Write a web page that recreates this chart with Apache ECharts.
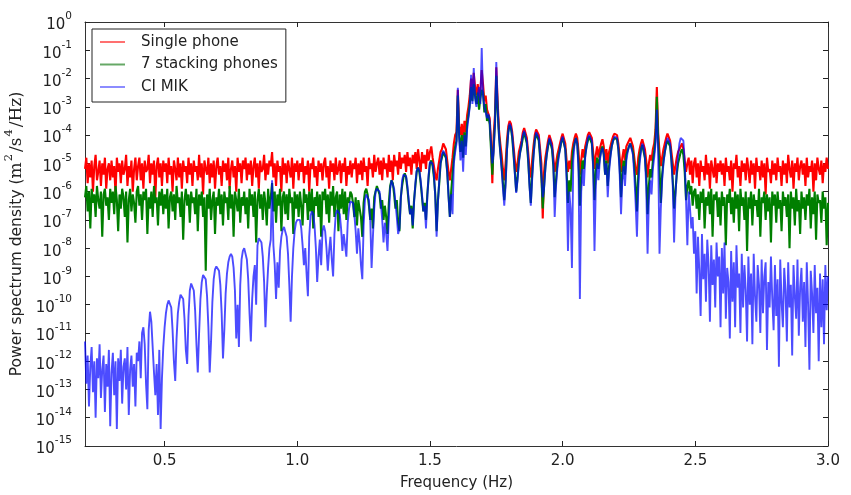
<!DOCTYPE html>
<html>
<head>
<meta charset="utf-8">
<script src="https://cdn.jsdelivr.net/npm/echarts@6/dist/echarts.min.js"></script>
<style>html,body{margin:0;padding:0;background:#fff}#chart{width:851px;height:495px}</style>
</head>
<body>
<div id="chart"></div>
<script>
// Frequency sampling grid (Hz)
const freqStart = 0.2;
const freqStep = 0.005;

// log10 of power spectral density, one row per 0.1 Hz
const singlePhoneLog10 = [
-5.2,-4.8,-5.7,-5.0,-5.5,-4.9,-6.0,-5.1,-4.7,-5.6,-5.3,-4.9,-5.8,-5.0,-5.4,-4.8,-5.9,-5.2,-5.0,-5.6,
-4.9,-5.5,-5.1,-6.1,-4.8,-5.3,-5.0,-5.7,-4.9,-5.4,-5.2,-4.7,-5.8,-5.1,-5.5,-4.9,-6.0,-5.2,-4.8,-5.6,
-5.1,-4.8,-5.6,-5.0,-5.9,-4.9,-5.3,-5.2,-4.7,-5.7,-5.0,-5.4,-4.9,-6.2,-5.1,-4.8,-5.5,-5.0,-5.8,-4.9,
-5.3,-5.0,-5.7,-4.8,-5.4,-5.1,-6.0,-4.9,-5.2,-5.6,-4.8,-5.5,-5.0,-5.9,-4.9,-5.3,-5.1,-5.7,-4.8,-5.4,
-5.0,-5.8,-4.9,-5.3,-5.1,-5.6,-4.7,-5.5,-5.0,-6.1,-4.9,-5.2,-5.4,-4.8,-5.7,-5.0,-5.5,-4.9,-5.9,-5.1,
-4.8,-5.4,-5.1,-5.8,-4.9,-5.3,-5.0,-5.6,-4.8,-5.9,-5.2,-4.9,-5.5,-5.1,-6.0,-4.8,-5.3,-5.0,-5.7,-4.9,
-5.2,-4.8,-5.6,-5.0,-5.4,-4.9,-5.8,-5.1,-4.8,-5.5,-5.0,-5.9,-4.9,-5.3,-5.2,-4.7,-5.6,-5.0,-5.4,-4.9,
-5.1,-4.6,-5.5,-5.0,-5.8,-4.9,-5.3,-5.1,-6.0,-4.8,-5.4,-5.0,-5.7,-4.9,-5.2,-5.5,-4.8,-5.9,-5.0,-5.3,
-4.9,-5.6,-5.0,-5.3,-4.8,-5.7,-5.1,-5.4,-4.9,-6.0,-5.0,-5.2,-4.8,-5.5,-5.1,-5.8,-4.9,-5.3,-5.0,-5.6,
-5.0,-4.8,-5.5,-5.1,-5.9,-4.9,-5.3,-5.0,-5.6,-4.8,-5.4,-5.2,-4.9,-5.7,-5.0,-5.3,-4.8,-5.8,-5.1,-5.4,
-4.9,-5.5,-5.0,-5.2,-4.8,-5.7,-5.0,-5.4,-4.9,-5.6,-4.8,-5.3,-5.1,-5.8,-4.8,-5.2,-5.0,-5.5,-4.7,-5.3,
-5.0,-4.8,-5.4,-4.9,-5.6,-4.8,-5.2,-5.0,-5.5,-4.7,-5.3,-4.9,-5.6,-4.7,-5.1,-4.9,-5.4,-4.6,-5.2,-4.8,
-5.0,-4.7,-5.3,-4.6,-5.1,-4.8,-5.4,-4.7,-5.0,-4.6,-5.2,-4.5,-4.9,-5.3,-4.6,-5.0,-4.7,-5.2,-4.5,-4.9,
-4.6,-4.4,-4.8,-5.1,-5.4,-5.6,-5.2,-4.9,-4.6,-4.5,-4.3,-4.35,-4.5,-4.9,-5.3,-5.6,-5.2,-4.8,-4.3,-4.0,
-3.9,-2.4,-3.7,-4.0,-3.6,-4.2,-3.5,-3.9,-3.3,-3.0,-2.6,-2.0,-2.5,-1.8,-2.3,-2.6,-2.2,-2.7,-2.4,-1.7,
-2.2,-2.8,-2.6,-3.1,-3.1,-3.4,-4.2,-5.7,-4.0,-3.3,-1.6,-2.8,-3.8,-4.3,-4.7,-5.2,-5.6,-5.0,-4.2,-3.7,
-3.5,-3.6,-3.9,-4.4,-4.9,-5.3,-5.0,-4.6,-4.4,-4.2,-3.9,-3.75,-3.8,-4.1,-4.6,-5.2,-5.5,-4.9,-4.4,-4.0,
-3.8,-3.75,-4.0,-4.5,-5.0,-6.95,-5.3,-4.8,-4.5,-4.2,-4.0,-4.05,-4.3,-4.8,-5.3,-5.0,-4.7,-4.5,-4.3,-4.1,
-3.95,-4.0,-4.3,-4.9,-5.3,-4.9,-5.2,-4.6,-4.3,-4.1,-3.95,-4.1,-4.6,-5.4,-4.9,-4.5,-4.8,-4.4,-4.2,-4.0,
-3.9,-3.85,-4.1,-4.6,-5.2,-4.7,-4.4,-4.8,-4.5,-4.3,-4.15,-4.4,-4.9,-4.5,-5.0,-4.6,-4.4,-4.2,-4.05,-3.95,
-3.9,-4.0,-4.3,-4.8,-5.3,-4.8,-4.5,-4.9,-4.4,-4.3,-4.2,-4.1,-4.1,-4.4,-4.8,-5.2,-5.4,-4.8,-4.5,-4.3,
-4.15,-4.2,-4.5,-4.9,-5.5,-5.0,-4.7,-4.9,-4.5,-4.3,-3.8,-2.3,-3.9,-4.6,-5.1,-4.8,-4.5,-4.3,-4.1,-3.95,
-4.0,-4.2,-4.6,-5.0,-5.4,-5.1,-4.8,-4.6,-4.5,-4.4,-4.3,-4.5,-4.9,-5.3,-5.0,-4.8,-5.4,-4.9,-5.7,-5.0,
-4.8,-5.5,-5.0,-5.8,-4.9,-5.3,-5.1,-5.6,-4.7,-5.4,-5.0,-5.9,-4.9,-5.2,-5.5,-4.8,-5.7,-5.0,-5.3,-4.9,
-5.4,-5.0,-5.8,-4.8,-5.3,-5.1,-5.6,-4.9,-6.0,-5.0,-5.2,-4.7,-5.5,-5.1,-5.8,-4.9,-5.3,-5.0,-5.6,-4.8,
-5.2,-5.7,-4.9,-5.4,-5.0,-5.9,-4.8,-5.3,-5.1,-5.6,-4.9,-5.5,-5.0,-6.1,-4.8,-5.3,-5.2,-5.7,-4.9,-5.4,
-5.0,-5.6,-4.8,-5.3,-5.1,-5.8,-4.9,-5.4,-5.0,-5.7,-4.7,-5.2,-5.5,-4.9,-5.9,-5.0,-5.3,-4.8,-5.6,-5.1,
-4.9,-5.4,-5.0,-5.8,-4.8,-5.5,-5.1,-5.3,-4.9,-6.0,-5.0,-5.6,-4.8,-5.2,-5.4,-4.9,-5.7,-5.0,-5.3,-4.8,
-5.2
];

const stackingPhonesLog10 = [
-6.2,-5.8,-6.7,-6.0,-7.3,-5.9,-6.4,-6.1,-6.9,-5.8,-6.3,-6.6,-6.0,-7.6,-6.1,-5.9,-6.5,-6.2,-7.0,-5.9,
-6.4,-6.0,-6.8,-5.8,-6.3,-7.4,-6.1,-6.6,-5.9,-6.2,-6.9,-6.0,-7.8,-6.3,-5.9,-6.7,-6.1,-6.4,-7.1,-6.0,
-5.8,-6.5,-6.1,-7.0,-6.0,-6.3,-5.9,-7.5,-6.2,-6.6,-6.0,-6.9,-5.8,-6.4,-6.2,-7.2,-6.0,-6.5,-5.9,-6.8,
-6.1,-6.6,-5.9,-7.3,-6.2,-6.0,-6.7,-6.1,-7.0,-5.8,-6.4,-6.2,-6.9,-6.0,-7.7,-6.3,-5.9,-6.5,-6.1,-7.1,
-6.0,-6.4,-6.2,-6.8,-5.9,-7.4,-6.1,-6.5,-6.0,-6.9,-6.2,-8.8,-6.1,-6.6,-5.9,-7.0,-6.3,-6.0,-7.5,-6.2,
-6.5,-5.9,-6.8,-6.1,-7.2,-6.0,-6.4,-6.2,-7.0,-5.8,-6.6,-6.1,-7.6,-6.0,-6.3,-6.7,-5.9,-7.1,-6.2,-6.5,
-6.0,-6.8,-6.2,-7.3,-5.9,-6.5,-6.1,-6.9,-6.0,-7.8,-6.3,-5.9,-6.6,-6.1,-7.0,-6.0,-6.4,-7.2,-5.9,-6.6,
-6.2,-5.7,-6.7,-6.0,-7.1,-6.1,-6.5,-5.9,-7.4,-6.2,-6.0,-6.8,-6.1,-7.0,-5.9,-6.4,-6.2,-7.5,-6.0,-6.6,
-6.1,-6.9,-6.0,-6.5,-7.2,-5.9,-6.4,-6.1,-7.0,-6.0,-6.7,-5.9,-7.3,-6.2,-6.5,-6.0,-6.9,-6.1,-7.6,-6.0,
-6.3,-5.9,-6.8,-6.1,-7.1,-6.0,-6.5,-5.8,-6.9,-6.2,-6.0,-7.4,-6.1,-6.6,-5.9,-6.8,-6.0,-7.0,-6.2,-6.4,
-6.0,-6.1,-6.4,-6.9,-6.2,-7.2,-6.3,-6.6,-6.9,-7.6,-6.4,-6.0,-5.9,-6.1,-6.5,-7.0,-6.6,-7.3,-6.2,-6.0,
-5.8,-5.85,-6.1,-6.6,-6.3,-7.0,-6.5,-6.9,-7.5,-6.4,-5.8,-5.6,-5.7,-6.1,-6.6,-6.3,-7.1,-7.4,-6.2,-5.8,
-5.5,-5.35,-5.5,-5.9,-6.4,-6.8,-6.5,-7.3,-6.3,-5.8,-5.3,-5.15,-5.3,-5.7,-6.2,-6.7,-6.4,-7.0,-6.1,-5.5,
-5.0,-4.9,-5.1,-5.5,-6.1,-7.4,-6.3,-5.7,-5.0,-4.8,-4.6,-4.6,-4.8,-5.3,-6.1,-6.9,-6.0,-5.4,-4.8,-4.4,
-4.2,-2.6,-4.0,-4.6,-4.0,-4.8,-3.9,-4.4,-3.6,-3.3,-2.9,-2.3,-2.8,-2.2,-2.6,-2.9,-2.5,-3.1,-2.7,-2.4,
-2.5,-3.2,-2.9,-3.5,-3.3,-3.6,-4.5,-5.4,-4.4,-3.6,-1.9,-3.1,-4.0,-4.6,-5.1,-5.7,-6.3,-5.6,-4.5,-3.9,
-3.65,-3.75,-4.1,-4.7,-5.3,-6.0,-5.5,-4.9,-4.6,-4.4,-4.1,-3.9,-3.95,-4.3,-4.9,-5.7,-6.4,-5.4,-4.7,-4.2,
-3.95,-3.9,-4.2,-4.8,-5.5,-6.6,-5.8,-5.1,-4.7,-4.4,-4.15,-4.2,-4.5,-5.1,-6.2,-5.6,-5.0,-4.7,-4.5,-4.25,
-4.1,-4.15,-4.5,-5.3,-6.4,-5.6,-6.0,-5.0,-4.5,-4.3,-4.1,-4.3,-5.0,-6.5,-5.4,-4.9,-5.2,-4.7,-4.4,-4.2,
-4.05,-4.0,-4.3,-5.0,-6.3,-5.3,-4.8,-5.2,-4.8,-4.55,-4.4,-4.7,-5.4,-4.9,-5.8,-5.1,-4.7,-4.4,-4.2,-4.1,
-4.05,-4.15,-4.5,-5.1,-6.2,-5.3,-4.9,-5.4,-4.7,-4.55,-4.4,-4.3,-4.3,-4.6,-5.1,-5.8,-6.7,-5.4,-4.8,-4.5,
-4.35,-4.4,-4.8,-5.4,-6.8,-5.8,-5.2,-5.5,-4.9,-4.6,-4.1,-2.65,-4.2,-5.2,-6.4,-5.4,-4.9,-4.6,-4.35,-4.2,
-4.25,-4.4,-4.9,-5.6,-6.6,-6.0,-5.4,-5.0,-4.8,-4.6,-4.5,-4.7,-5.3,-6.3,-5.8,-5.6,-6.1,-5.8,-6.5,-6.0,
-5.9,-6.6,-6.1,-7.0,-6.0,-6.4,-5.9,-7.3,-6.2,-6.5,-6.0,-6.8,-5.9,-7.6,-6.1,-6.3,-6.0,-6.9,-6.2,-7.2,
-6.0,-6.5,-6.2,-7.9,-6.1,-6.4,-5.9,-6.8,-6.2,-7.1,-6.0,-6.6,-6.1,-7.4,-5.9,-6.5,-6.2,-7.0,-6.0,-8.1,
-6.2,-6.6,-6.0,-7.2,-6.1,-6.5,-6.3,-6.9,-5.9,-7.6,-6.2,-6.4,-6.0,-7.0,-6.1,-6.7,-6.2,-7.8,-6.0,-6.5,
-6.1,-7.1,-6.0,-6.6,-6.3,-7.4,-6.0,-6.5,-6.2,-6.9,-6.1,-8.0,-6.0,-6.6,-6.2,-7.2,-5.9,-6.7,-6.3,-7.5,
-6.0,-6.6,-6.2,-7.0,-6.1,-6.5,-5.9,-7.3,-6.2,-6.8,-6.0,-7.7,-6.1,-6.4,-6.3,-7.1,-6.0,-6.6,-6.2,-7.9,
-6.4
];

const ciMikLog10 = [
-11.3,-12.8,-11.8,-13.6,-12.2,-11.5,-13.1,-12.0,-14.0,-11.9,-12.6,-11.4,-13.3,-12.3,-11.8,-13.8,-12.1,-12.9,-11.6,-14.3,
-12.4,-11.7,-13.2,-12.0,-14.4,-11.9,-12.7,-11.6,-13.5,-12.2,-11.9,-13.0,-11.5,-13.9,-12.3,-11.8,-12.9,-12.1,-13.6,-11.7,
-12.0,-11.3,-12.6,-11.0,-10.8,-11.4,-12.8,-13.7,-10.9,-10.25,-10.6,-11.5,-12.4,-13.2,-12.1,-13.9,-11.6,-14.4,-12.6,-11.5,
-10.8,-10.3,-10.0,-9.85,-9.8,-10.1,-10.9,-12.0,-12.7,-11.2,-10.3,-9.9,-9.65,-9.6,-9.8,-10.5,-11.6,-12.1,-10.4,-9.5,
-9.25,-9.2,-9.5,-10.2,-11.4,-12.4,-11.0,-9.8,-9.2,-8.95,-8.9,-9.1,-9.7,-10.8,-12.4,-11.3,-9.9,-9.1,-8.75,-8.65,
-8.6,-8.8,-9.3,-10.3,-11.9,-10.9,-9.6,-8.9,-8.5,-8.3,-8.2,-8.3,-8.7,-9.5,-11.2,-10.0,-11.5,-9.3,-8.4,-8.1,
-8.0,-8.05,-8.4,-9.1,-10.3,-11.3,-9.8,-9.0,-8.6,-10.0,-7.9,-7.65,-7.6,-7.8,-8.3,-9.2,-10.8,-9.6,-8.7,-8.0,
-7.7,-5.6,-7.9,-8.6,-9.8,-8.5,-9.4,-8.1,-7.6,-7.35,-7.25,-7.3,-7.6,-8.2,-9.3,-10.6,-9.0,-8.0,-7.4,-7.1,
-7.0,-6.95,-7.0,-7.3,-7.9,-8.6,-8.0,-8.9,-9.7,-7.6,-6.85,-6.7,-6.8,-7.2,-8.0,-9.2,-8.3,-7.7,-8.6,-7.4,
-7.2,-7.4,-8.0,-8.8,-8.1,-7.6,-8.4,-9.0,-7.5,-6.8,-6.65,-6.6,-6.8,-7.3,-8.1,-7.5,-7.9,-8.3,-7.1,-6.6,
-6.35,-6.3,-6.4,-6.8,-7.4,-8.2,-7.3,-7.8,-8.6,-9.1,-7.2,-6.3,-6.1,-6.05,-6.3,-7.0,-8.7,-7.6,-6.6,-6.0,
-5.9,-5.87,-6.0,-6.4,-7.0,-7.8,-7.1,-7.5,-8.1,-6.9,-5.9,-5.6,-5.65,-5.9,-6.4,-6.9,-7.5,-7.3,-6.3,-5.6,
-5.4,-5.34,-5.45,-5.8,-6.3,-6.8,-6.6,-7.2,-6.4,-5.7,-5.25,-5.15,-5.25,-5.6,-6.1,-6.7,-6.5,-7.3,-6.2,-5.4,
-4.95,-4.9,-5.0,-5.4,-6.2,-7.6,-6.4,-5.6,-5.0,-4.7,-4.55,-4.55,-4.75,-5.3,-6.2,-6.9,-6.1,-6.8,-5.0,-4.6,
-4.3,-2.33,-4.1,-4.9,-4.2,-5.3,-4.0,-4.7,-3.8,-3.4,-3.0,-1.87,-2.9,-1.63,-2.7,-3.0,-2.6,-2.3,-2.9,-0.92,
-2.6,-3.0,-3.2,-3.4,-3.25,-3.5,-4.3,-5.0,-4.6,-3.6,-1.42,-3.0,-4.0,-4.6,-5.2,-5.9,-6.5,-5.8,-4.6,-3.9,
-3.6,-3.7,-4.0,-4.6,-5.4,-6.05,-5.6,-5.0,-4.6,-4.3,-4.0,-3.85,-3.9,-4.2,-4.8,-5.8,-6.5,-5.6,-4.8,-4.2,
-3.9,-3.85,-4.1,-4.7,-5.4,-6.2,-5.9,-5.2,-4.7,-4.35,-4.1,-4.1,-4.4,-5.0,-6.9,-5.8,-5.2,-4.8,-4.5,-4.2,
-4.05,-4.1,-4.5,-5.6,-8.1,-6.0,-6.6,-8.7,-4.9,-4.3,-4.1,-4.3,-5.3,-9.8,-6.0,-5.2,-5.8,-4.8,-4.4,-4.1,
-4.0,-3.95,-4.2,-5.2,-8.1,-5.8,-5.0,-5.6,-4.9,-4.6,-4.45,-4.7,-5.4,-5.0,-6.2,-5.3,-4.8,-4.4,-4.2,-4.05,
-4.0,-4.1,-4.5,-5.4,-6.8,-5.6,-5.1,-5.8,-4.9,-4.6,-4.4,-4.3,-4.3,-4.7,-5.4,-6.4,-7.6,-5.9,-5.0,-4.6,
-4.3,-4.4,-4.8,-5.8,-8.2,-6.3,-5.6,-6.1,-5.2,-4.8,-4.3,-3.1,-4.6,-8.2,-6.6,-5.6,-5.0,-4.6,-4.3,-4.1,
-4.1,-4.3,-4.9,-5.8,-7.8,-6.2,-5.3,-4.7,-4.3,-4.1,-4.07,-4.2,-4.9,-6.3,-7.9,-6.0,-6.6,-7.3,-6.9,-8.2,
-7.4,-9.6,-7.6,-8.8,-10.4,-7.5,-9.1,-8.2,-9.9,-7.7,-8.6,-10.6,-7.9,-9.3,-8.4,-10.1,-7.8,-9.0,-8.3,-10.8,
-8.0,-9.6,-7.8,-10.5,-8.7,-9.2,-11.2,-8.1,-9.9,-8.5,-10.8,-7.9,-9.4,-8.9,-11.0,-8.2,-10.1,-8.6,-9.5,-11.3,
-8.3,-10.0,-8.9,-11.4,-8.2,-9.7,-10.6,-8.6,-9.3,-11.0,-8.4,-10.3,-9.0,-8.5,-11.6,-9.2,-10.1,-8.3,-9.8,-10.9,
-8.6,-10.4,-9.1,-12.2,-8.4,-9.9,-10.8,-8.7,-9.5,-11.3,-8.5,-10.1,-9.3,-11.8,-8.6,-9.7,-10.5,-8.4,-11.1,-9.4,
-8.7,-10.6,-9.2,-11.5,-8.5,-10.0,-12.3,-8.8,-9.6,-11.0,-8.6,-10.3,-9.4,-12.0,-8.9,-10.8,-9.1,-11.4,-8.6,-10.2,
-9.0
];

const seriesNames = ['Single phone', '7 stacking phones', 'CI MIK'];
const xTickValues = [0.5, 1.0, 1.5, 2.0, 2.5, 3.0];
const yTickExponents = [0, -1, -2, -3, -4, -5, -6, -7, -8, -9, -10, -11, -12, -13, -14, -15];

const FONT = 'DejaVu Sans';
const TXT = '#222';

function toPoints(exps) {
  return exps.map((e, i) => [Math.round((freqStart + i * freqStep) * 1000) / 1000, Math.pow(10, e)]);
}
const yTickValues = yTickExponents.map(e => Math.pow(10, e));

const chart = echarts.init(document.getElementById('chart'), null, {renderer: 'canvas'});

const axisLineStyle = {color: '#333', width: 1};
const tickStyle = {show: true, inside: true, length: 5, lineStyle: {color: '#222', width: 1}};

chart.setOption({
  animation: false,
  backgroundColor: '#fff',
  grid: {left: 85, right: 23, top: 22, bottom: 49, containLabel: false, outerBoundsMode: 'none'},
  legend: {
    orient: 'vertical', left: 92, top: 29,
    padding: [3, 8, 5, 8], itemGap: 2.5, itemWidth: 25, itemHeight: 2, icon: 'rect',
    backgroundColor: '#fff', borderColor: '#222', borderWidth: 1, borderRadius: 0,
    textStyle: {fontSize: 15, color: TXT, fontFamily: FONT, lineHeight: 20, padding: [0, 0, 0, 11]},
    data: [
      {name: seriesNames[0], itemStyle: {color: '#ff7070'}},
      {name: seriesNames[1], itemStyle: {color: '#66a866'}},
      {name: seriesNames[2], itemStyle: {color: '#8c8cff'}}
    ]
  },
  xAxis: [
    {
      type: 'value', min: 0.2, max: 3.0, position: 'bottom',
      axisLine: {show: true, onZero: false, lineStyle: axisLineStyle},
      axisTick: Object.assign({customValues: xTickValues}, tickStyle),
      axisLabel: {customValues: xTickValues, formatter: v => v.toFixed(1), fontSize: 15, color: TXT, fontFamily: FONT, margin: 8},
      splitLine: {show: false},
      name: 'Frequency (Hz)', nameLocation: 'middle', nameGap: 30,
      nameTextStyle: {fontSize: 15, color: TXT, fontFamily: FONT}
    },
    {
      type: 'value', min: 0.2, max: 3.0, position: 'top',
      axisLine: {show: true, onZero: false, lineStyle: axisLineStyle},
      axisTick: Object.assign({customValues: xTickValues}, tickStyle),
      axisLabel: {show: false},
      splitLine: {show: false}
    }
  ],
  yAxis: [
    {
      type: 'log', logBase: 10, min: 1e-15, max: 1, position: 'left',
      axisLine: {show: true, onZero: false, lineStyle: axisLineStyle},
      axisTick: Object.assign({customValues: yTickValues}, tickStyle),
      minorTick: {show: false},
      axisLabel: {
        customValues: yTickValues,
        margin: 13,
        formatter: v => {
          const e = Math.round(Math.log10(v));
          return '{b|10}{s|' + String(e) + '}';
        },
        rich: {
          b: {fontSize: 15, color: TXT, fontFamily: FONT, lineHeight: 22, verticalAlign: 'bottom'},
          s: {fontSize: 10.5, color: TXT, fontFamily: FONT, lineHeight: 10, verticalAlign: 'top'}
        }
      },
      splitLine: {show: false},
      name: '{a|Power spectrum density (}{m|m}{p|2}{m|/s}{p|4}{m|/Hz}{a|)}',
      nameLocation: 'middle', nameGap: 45, nameRotate: 90,
      nameTextStyle: {
        rich: {
          a: {fontSize: 15.5, color: TXT, fontFamily: FONT, lineHeight: 22, verticalAlign: 'bottom'},
          m: {fontSize: 17, color: TXT, fontFamily: 'DejaVu Serif', lineHeight: 22, verticalAlign: 'bottom'},
          p: {fontSize: 11.5, color: TXT, fontFamily: 'DejaVu Serif', lineHeight: 11, verticalAlign: 'top', padding: [0, 2, 0, 1]}
        }
      }
    },
    {
      type: 'log', logBase: 10, min: 1e-15, max: 1, position: 'right',
      axisLine: {show: true, onZero: false, lineStyle: axisLineStyle},
      axisTick: Object.assign({customValues: yTickValues}, tickStyle),
      minorTick: {show: false},
      axisLabel: {show: false},
      splitLine: {show: false}
    }
  ],
  series: [
    {
      name: seriesNames[0], type: 'line', xAxisIndex: 0, yAxisIndex: 0,
      data: toPoints(singlePhoneLog10), showSymbol: false, symbol: 'none', sampling: null,
      lineStyle: {color: '#ff0000', width: 2.1, join: 'bevel'}, itemStyle: {color: '#ff0000'}, z: 2
    },
    {
      name: seriesNames[1], type: 'line', xAxisIndex: 0, yAxisIndex: 0,
      data: toPoints(stackingPhonesLog10), showSymbol: false, symbol: 'none', sampling: null,
      lineStyle: {color: '#007f00', width: 2.1, join: 'bevel'}, itemStyle: {color: '#007f00'}, z: 3
    },
    {
      name: seriesNames[2], type: 'line', xAxisIndex: 0, yAxisIndex: 0,
      data: toPoints(ciMikLog10), showSymbol: false, symbol: 'none', sampling: null,
      lineStyle: {color: 'rgba(0,0,255,0.7)', width: 1.9, join: 'bevel'}, itemStyle: {color: 'rgba(0,0,255,0.7)'}, z: 4
    }
  ]
});
</script>
</body>
</html>
